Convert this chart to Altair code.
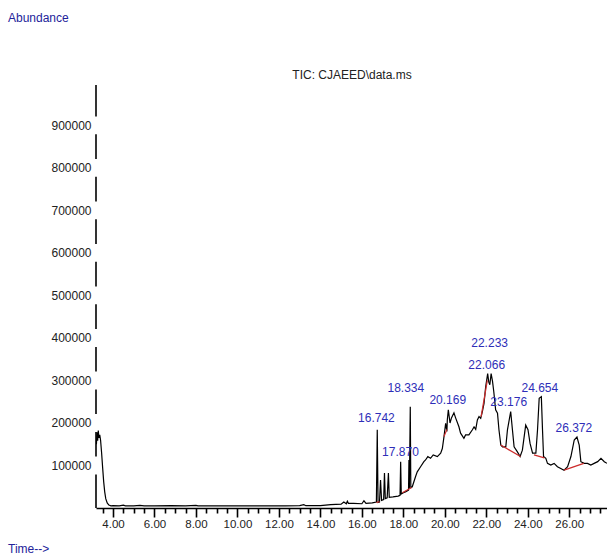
import altair as alt
import pandas as pd

# ---- chromatogram (retention time in minutes, abundance) ----
time_min = [3.20, 3.23, 3.26, 3.29, 3.32, 3.36, 3.40, 3.45, 3.50, 3.55, 3.60, 3.65, 3.72, 3.80, 3.90,
            4.00, 4.30, 4.50, 4.60, 5.00, 5.30, 5.50, 6.00, 6.80, 7.50, 8.00, 8.10, 9.00, 10.00, 11.00,
            12.00, 12.30, 13.00, 13.20, 13.30, 14.00, 14.50, 15.00, 15.13, 15.25, 15.30, 15.35, 15.60,
            16.00, 16.10, 16.20, 16.50, 16.70, 16.742, 16.78, 16.85, 16.90, 16.95, 17.05, 17.09, 17.13,
            17.22, 17.28, 17.32, 17.50, 17.75, 17.84, 17.87, 17.90, 18.00, 18.10, 18.25, 18.27, 18.29,
            18.334, 18.36, 18.43, 18.59, 18.67, 18.83, 18.99, 19.07, 19.18, 19.31, 19.44, 19.64, 19.80,
            19.88, 19.96, 20.04, 20.10, 20.12, 20.169, 20.25, 20.32, 20.44, 20.52, 20.68, 20.76, 20.92,
            21.00, 21.16, 21.33, 21.41, 21.49, 21.57, 21.65, 21.73, 21.81, 21.89, 21.97, 22.066, 22.12,
            22.17, 22.233, 22.30, 22.36, 22.45, 22.54, 22.61, 22.70, 22.78, 22.94, 23.02, 23.176, 23.26,
            23.34, 23.50, 23.63, 23.74, 23.90, 24.01, 24.11, 24.23, 24.39, 24.47, 24.55, 24.654, 24.71,
            24.76, 24.87, 24.95, 25.11, 25.27, 25.43, 25.59, 25.75, 25.92, 26.08, 26.24, 26.372, 26.48,
            26.56, 26.72, 26.88, 27.04, 27.20, 27.37, 27.53, 27.69, 27.82]
abundance = [150000, 178000, 158000, 182000, 165000, 172000, 160000, 130000, 95000, 62000, 38000, 22000, 12000, 7000, 5000,
             5500, 5000, 6500, 5000, 5000, 6000, 5000, 5000, 5500, 5000, 6000, 5000, 5000, 5000, 5000,
             5200, 5000, 5500, 8000, 5500, 5500, 8000, 9000, 14000, 10000, 16000, 11000, 11000,
             10000, 17000, 11000, 12000, 14000, 184000, 13000, 14000, 66000, 18000, 20000, 82000, 22000,
             24000, 82000, 25000, 26000, 28000, 30000, 109000, 33000, 36000, 38000, 42000, 113000, 45000,
             238000, 48000, 50000, 74000, 85000, 97000, 109000, 113000, 121000, 117000, 125000, 121000, 129000,
             140000, 168000, 199000, 180000, 207000, 231000, 200000, 212000, 224000, 212000, 191000, 176000, 164000,
             172000, 172000, 184000, 191000, 185000, 207000, 215000, 211000, 227000, 246000, 285000, 316000, 296000,
             290000, 316000, 298000, 274000, 231000, 223000, 184000, 148000, 144000, 144000, 184000, 227000, 184000,
             144000, 132000, 121000, 136000, 195000, 184000, 152000, 129000, 129000, 184000, 258000, 262000, 184000,
             121000, 117000, 105000, 101000, 105000, 97000, 93000, 89000, 97000, 121000, 160000, 167000, 148000,
             109000, 105000, 105000, 101000, 105000, 109000, 117000, 109000, 105000]

# ---- integrated peaks and their labels ----
peak_names = ["16.742", "17.870", "18.334", "20.169", "22.066", "22.233", "23.176", "24.654", "26.372"]
label_times = [16.70, 17.86, 18.12, 20.14, 22.02, 22.16, 23.08, 24.58, 26.22]
label_heights = [212000, 132000, 282000, 254000, 336000, 388000, 249000, 282000, 188000]

# ---- integration baselines (red) ----
base_id = [1, 1, 2, 2, 3, 3, 4, 4, 5, 5, 6, 6, 7, 7]
base_t = [16.70, 16.85, 17.95, 18.40, 19.96, 20.10, 21.75, 22.05, 22.70, 23.65, 24.30, 24.80, 25.75, 26.70]
base_v = [13000, 15000, 36000, 48000, 168000, 185000, 215000, 300000, 148000, 121000, 125000, 118000, 89000, 105000]

# ---- axis ticks ----
y_ticks = [100000, 200000, 300000, 400000, 500000, 600000, 700000, 800000, 900000]
x_ticks = [3.5 + 0.5 * i for i in range(49)]   # every half minute, labelled every 2 min

X_DOMAIN = [3.18, 27.82]
Y_DOMAIN = [0, 995000]
W, H = 511, 423
FONT = "Liberation Sans"

xs = alt.Scale(domain=X_DOMAIN, nice=False, zero=False)
ys = alt.Scale(domain=Y_DOMAIN, nice=False, zero=False)

ax_x = alt.Axis(values=x_ticks, title=None, grid=False, orient="bottom",
                labelExpr="datum.value % 2 === 0 ? format(datum.value, '.2f') : ''",
                labelOverlap=False,
                domainColor="black", domainWidth=1.6, tickColor="black", tickWidth=1.6,
                tickSize={"condition": {"test": "datum.value % 2 === 0", "value": 9}, "value": 5},
                labelFont=FONT, labelFontSize=11.5, labelColor="#222222", labelPadding=1)
ax_y = alt.Axis(values=y_ticks, format="d", title=None, grid=False, domain=False, ticks=False,
                orient="left", labelFont=FONT, labelFontSize=12, labelColor="#222222", labelPadding=5)

def X(field):
    return alt.X(field, scale=xs, axis=ax_x, title=None)

def Y(field):
    return alt.Y(field, scale=ys, axis=ax_y, title=None)

trace = pd.DataFrame({"t": time_min, "v": abundance})
line = alt.Chart(trace).mark_line(color="black", strokeWidth=1.2, clip=True).encode(
    x=X("t:Q"), y=Y("v:Q"))

bl = pd.DataFrame({"id": base_id, "t": base_t, "v": base_v})
baselines = alt.Chart(bl).mark_line(color="#cc2b2b", strokeWidth=1.2).encode(
    x=X("t:Q"), y=Y("v:Q"), detail="id:N")

lab = pd.DataFrame({"name": peak_names, "t": label_times, "v": label_heights})
labels = alt.Chart(lab).mark_text(color="#2e2eb8", font=FONT, fontSize=12, baseline="middle", align="center").encode(
    x=X("t:Q"), y=Y("v:Q"), text="name:N")

# y axis line, broken around the tick labels
gap = 21000
seg = pd.DataFrame({"v": [0] + [t + gap for t in y_ticks], "v2": [t - gap for t in y_ticks] + [Y_DOMAIN[1]]})
yaxis = alt.Chart(seg).mark_rule(color="black", strokeWidth=1.6).encode(
    x=alt.value(0), y=Y("v:Q"), y2="v2:Q")

def note(txt, x, y, color, size, align="left"):
    return alt.Chart(pd.DataFrame({"s": [txt]})).mark_text(
        color=color, font=FONT, fontSize=size, align=align, baseline="middle").encode(
        x=alt.value(x), y=alt.value(y), text="s:N")

abund = note("Abundance", -88, -67, "#23239a", 12)
timel = note("Time-->", -88, 464, "#23239a", 12)
title = note("TIC: CJAEED\\data.ms", 256, -10, "#222222", 12, "center")

chart = alt.layer(line, baselines, yaxis, labels, abund, timel, title).properties(
    width=W, height=H,
    autosize=alt.AutoSizeParams(type="none"),
    padding={"left": 96, "top": 85, "right": 0, "bottom": 50},
).configure_view(stroke=None)

chart.save("out.html", embed_options={"renderer": "svg", "actions": False})
